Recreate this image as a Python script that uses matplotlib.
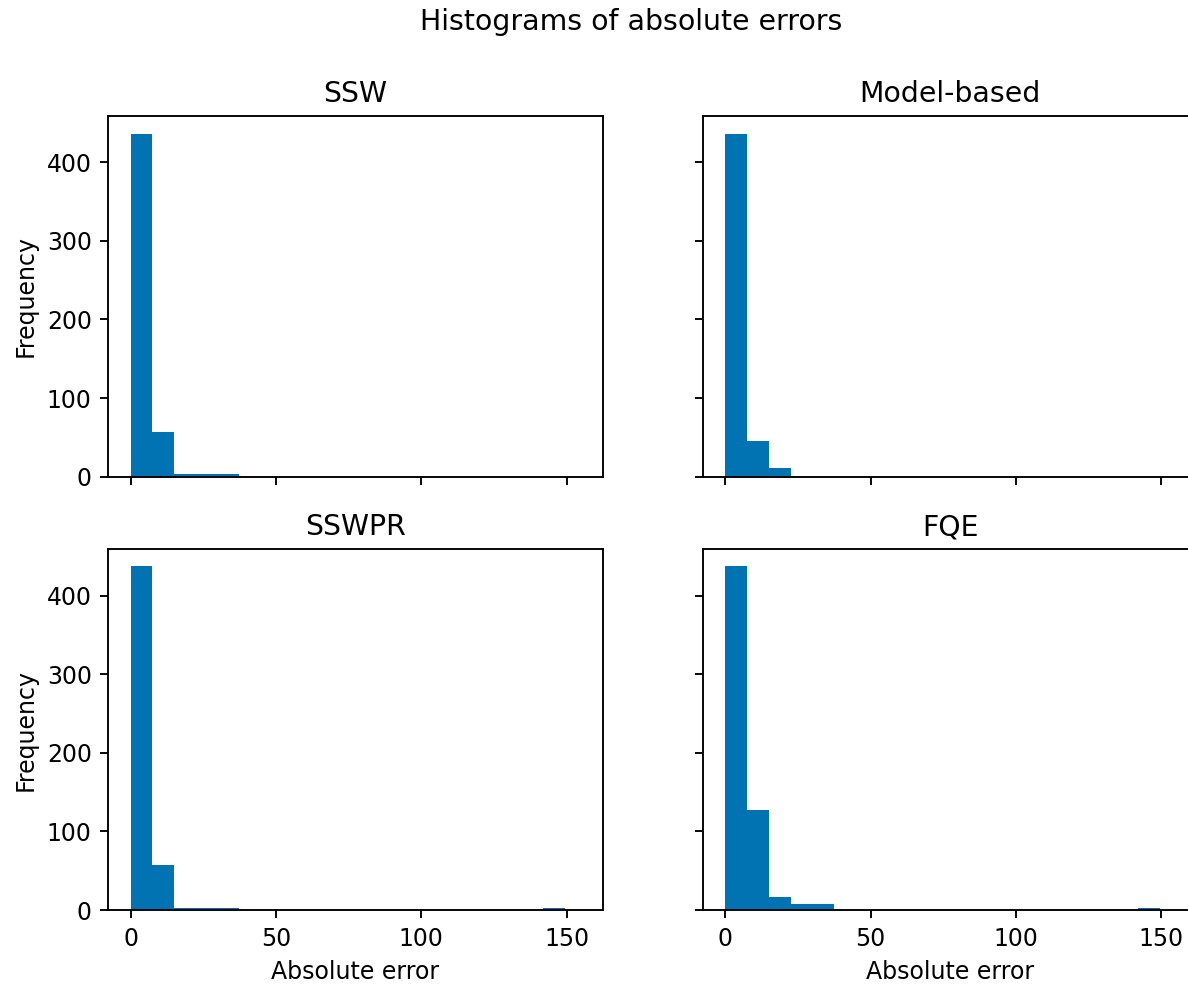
import numpy as np
import matplotlib
matplotlib.use("Agg")
import matplotlib.pyplot as plt

# Shared histogram bin edges (20 equal-width bins)
bin_edges = np.linspace(0.0, 149.4, 21)

methods = ["SSW", "Model-based", "SSWPR", "FQE"]

# Counts per bin for each estimator
counts_ssw = [436, 57, 4, 4, 4, 0, 0, 0, 0, 0, 0, 0, 0, 0, 0, 0, 0, 0, 0, 0]
counts_model = [436, 45, 11, 0, 0, 0, 0, 0, 0, 0, 0, 0, 0, 0, 0, 0, 0, 0, 0, 0]
counts_sswpr = [437, 57, 3, 3, 3, 0, 0, 0, 0, 0, 0, 0, 0, 0, 0, 0, 0, 0, 0, 3]
counts_fqe = [437, 127, 17, 7, 7, 0, 0, 0, 0, 0, 0, 0, 0, 0, 0, 0, 0, 0, 0, 3]

all_counts = [counts_ssw, counts_model, counts_sswpr, counts_fqe]

bar_color = "#0173B2"

DPI = 170
W, H = 1188.0, 988.0
fig = plt.figure(figsize=(W / DPI, H / DPI), dpi=DPI)

ax_w = 494.4 / W
ax_h = 360.7 / H
lefts = [108.3 / W, 703.0 / W]
bottoms = [(H - 476.7) / H, (H - 910.0) / H]

axes = []
for r in range(2):
    for c in range(2):
        kw = {}
        if axes:
            kw["sharex"] = axes[0]
            kw["sharey"] = axes[0]
        ax = fig.add_axes([lefts[c], bottoms[r], ax_w, ax_h], **kw)
        axes.append(ax)

centers = 0.5 * (bin_edges[:-1] + bin_edges[1:])
for i, (ax, name, cnt) in enumerate(zip(axes, methods, all_counts)):
    ax.hist(centers, bins=bin_edges, weights=cnt, color=bar_color)
    ax.set_title(name)
    r, c = divmod(i, 2)
    if c == 0:
        ax.set_ylabel("Frequency")
    else:
        ax.tick_params(labelleft=False)
    if r == 1:
        ax.set_xlabel("Absolute error")
    else:
        ax.tick_params(labelbottom=False)

axes[0].set_xlim(-7.7, 162.4)
axes[0].set_xticks([0, 50, 100, 150])
axes[0].set_yticks([0, 100, 200, 300, 400])

fig.suptitle("Histograms of absolute errors", x=631 / W, y=1 - 22 / H,
             va="center")

fig.savefig("out.png", dpi=DPI)
